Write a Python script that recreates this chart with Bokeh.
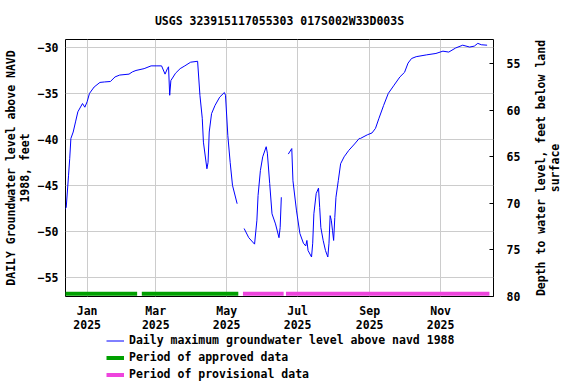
import math
import numpy as np
import pandas as pd
from bokeh.plotting import figure
from bokeh.layouts import column, row
from bokeh.core.properties import value
from bokeh.models import (Range1d, LinearAxis, FixedTicker, MonthsTicker,
                          DatetimeTickFormatter, Legend, LegendItem)
from bokeh.embed import file_html
from bokeh.resources import INLINE

title_text = "USGS 323915117055303 017S002W33D003S"

dates = [
    "2024-12-13", "2024-12-14", "2024-12-16", "2024-12-17", "2024-12-18", "2024-12-20",
    "2024-12-22", "2024-12-24", "2024-12-28", "2024-12-30", "2025-01-01", "2025-01-03",
    "2025-01-07", "2025-01-12", "2025-01-16", "2025-01-21", "2025-01-25", "2025-01-29",
    "2025-02-06", "2025-02-09", "2025-02-12", "2025-02-19", "2025-02-25", "2025-03-02",
    "2025-03-06", "2025-03-09", "2025-03-11", "2025-03-12", "2025-03-13", "2025-03-14",
    "2025-03-18", "2025-03-22", "2025-03-26", "2025-03-31", "2025-04-06", "2025-04-08",
    "2025-04-10", "2025-04-11", "2025-04-14", "2025-04-15", "2025-04-16", "2025-04-18",
    "2025-04-21", "2025-04-25", "2025-04-29", "2025-04-30", "2025-05-02", "2025-05-04",
    "2025-05-06", "2025-05-10", "2025-05-13",
    "2025-05-16", "2025-05-20", "2025-05-25", "2025-05-27", "2025-05-28", "2025-05-30",
    "2025-06-01", "2025-06-04", "2025-06-05", "2025-06-07", "2025-06-09", "2025-06-12",
    "2025-06-15", "2025-06-16", "2025-06-17", "2025-06-20",
    "2025-06-23", "2025-06-26", "2025-06-27", "2025-06-30", "2025-07-03", "2025-07-06",
    "2025-07-08", "2025-07-09", "2025-07-10", "2025-07-13", "2025-07-14", "2025-07-15",
    "2025-07-17", "2025-07-19", "2025-07-20", "2025-07-21", "2025-07-23", "2025-07-25",
    "2025-07-27", "2025-07-28", "2025-07-29", "2025-07-30", "2025-07-31", "2025-08-01",
    "2025-08-02", "2025-08-03", "2025-08-05", "2025-08-07", "2025-08-10", "2025-08-14",
    "2025-08-19", "2025-08-23", "2025-08-24", "2025-08-30", "2025-09-03", "2025-09-06",
    "2025-09-09", "2025-09-13", "2025-09-17", "2025-09-22", "2025-09-27", "2025-10-01",
    "2025-10-04", "2025-10-07", "2025-10-11", "2025-10-20", "2025-10-28", "2025-11-03",
    "2025-11-08", "2025-11-14", "2025-11-20", "2025-11-26", "2025-11-30", "2025-12-03",
    "2025-12-06", "2025-12-11",
]
levels = [
    -47.6, -47.4, -43.9, -42.1, -39.9, -39.2,
    -38.1, -37.0, -36.1, -36.5, -35.9, -35.0,
    -34.3, -33.8, -33.75, -33.7, -33.2, -33.0,
    -32.9, -32.65, -32.5, -32.3, -32.0, -32.0,
    -32.0, -32.9, -32.3, -32.1, -35.2, -33.6,
    -32.8, -32.3, -32.0, -31.6, -31.5, -35.2,
    -37.7, -40.3, -43.2, -42.5, -39.2, -37.2,
    -36.3, -35.4, -34.9, -35.2, -39.6, -42.5,
    -45.0, -47.0, float("nan"),
    -49.7, -50.7, -51.4, -48.8, -46.1, -43.4,
    -41.9, -40.8, -41.5, -44.8, -48.1, -49.2,
    -50.7, -49.6, -46.3, float("nan"),
    -41.6, -41.0, -44.5, -47.7, -50.25, -51.3,
    -51.6, -51.0, -52.1, -52.8, -51.3, -48.1,
    -45.9, -45.3, -47.4, -49.6, -51.0, -52.1,
    -52.8, -51.3, -48.3, -48.8, -49.9, -51.0,
    -48.5, -46.3, -44.5, -42.65, -41.9, -41.2,
    -40.5, -39.9, -39.9, -39.5, -39.3, -38.8,
    -37.7, -36.3, -35.0, -34.1, -33.2, -32.7,
    -31.7, -31.2, -31.0, -30.8, -30.65, -30.4,
    -30.5, -30.05, -29.75, -29.95, -29.85, -29.55,
    -29.7, -29.75,
]

approved_start = ["2024-12-13", "2025-02-17"]
approved_end = ["2025-02-13", "2025-05-11"]
provisional_start = ["2025-05-15", "2025-06-21"]
provisional_end = ["2025-06-19", "2025-12-13"]

left_ticks = [-55, -50, -45, -40, -35, -30]
right_ticks = [55, 60, 65, 70, 75, 80]
month_ticks = [0, 2, 4, 6, 8, 10]  # Jan, Mar, May, Jul, Sep, Nov

series_label = "Daily maximum groundwater level above navd 1988"
approved_label = "Period of approved data"
provisional_label = "Period of provisional data"
left_label = "DAILY Groundwater level above NAVD\n1988, feet"
right_label = "Depth to water level, feet below land\nsurface"

FONT = "DejaVu Sans Mono"
FSIZE = "11.5px"
BLUE = "#0000ff"
GREEN = "#00a000"
PINK = "#ee44dd"
BAR_Y = -56.8

x = pd.to_datetime(dates)
a0, a1 = pd.to_datetime(approved_start), pd.to_datetime(approved_end)
q0, q1 = pd.to_datetime(provisional_start), pd.to_datetime(provisional_end)

p = figure(width=530, height=334, x_axis_type="datetime",
           x_range=Range1d(pd.Timestamp("2024-12-13 09:00"), pd.Timestamp("2025-12-16 12:00")),
           y_range=Range1d(-57.1, -29.13),
           output_backend="svg", toolbar_location=None,
           min_border_left=64, min_border_right=37, min_border_top=39, min_border_bottom=38)

p.title.text = title_text
p.title.align = "center"
p.title.text_font = FONT
p.title.text_font_size = FSIZE
p.title.text_font_style = "bold"
p.title.text_color = "black"
p.title.standoff = 23

p.outline_line_color = "black"
p.outline_line_width = 1
p.background_fill_color = "white"
p.border_fill_color = "white"

p.line(x, levels, line_color=BLUE, line_width=1)
p.segment(x0=a0, y0=BAR_Y, x1=a1, y1=BAR_Y, line_color=GREEN, line_width=4)
p.segment(x0=q0, y0=BAR_Y, x1=q1, y1=BAR_Y, line_color=PINK, line_width=4)

# x axis
xt = MonthsTicker(months=month_ticks)
xa = p.xaxis[0]
xa.ticker = xt
xa.formatter = DatetimeTickFormatter(days="%b\n%Y", months="%b\n%Y", years="%b\n%Y")
p.xgrid.ticker = xt

# left axis
ya = p.yaxis[0]
ya.ticker = FixedTicker(ticks=left_ticks)
ya.axis_label = left_label

# right axis
p.extra_y_ranges = {"depth": Range1d(start=80, end=52.43)}
ra = LinearAxis(y_range_name="depth", ticker=FixedTicker(ticks=right_ticks))
p.add_layout(ra, "right")

for ax in (xa, ya, ra):
    ax.major_label_text_font = FONT
    ax.major_label_text_font_size = FSIZE
    ax.major_label_text_font_style = "bold"
    ax.major_label_text_color = "black"
    ax.major_label_text_line_height = 1.0
    ax.axis_label_text_font = FONT
    ax.axis_label_text_font_size = FSIZE
    ax.axis_label_text_font_style = "bold"
    ax.axis_label_text_color = "black"
    ax.axis_label_text_line_height = 1.0
    ax.axis_line_color = None
    ax.minor_tick_line_color = None
    ax.major_tick_out = 0
    ax.major_tick_in = 0

xa.major_label_standoff = 7
ya.major_label_standoff = 7
ya.axis_label_standoff = 3
ra.major_tick_in = 4
ra.major_tick_line_color = "black"
ra.major_label_standoff = 13

p.xgrid.grid_line_color = "#cccccc"
p.ygrid.grid_line_color = "#cccccc"
p.xgrid.grid_line_width = 1
p.ygrid.grid_line_width = 1

# legend panel below the chart
lg = figure(width=530, height=50, output_backend="svg", toolbar_location=None,
            x_range=Range1d(0, 1), y_range=Range1d(0, 1),
            x_axis_location=None, y_axis_location=None,
            min_border=0, outline_line_color=None)
lg.grid.visible = False
k_line = lg.line(x, levels, line_color=BLUE, line_width=1)
k_appr = lg.segment(x0=a0, y0=BAR_Y, x1=a1, y1=BAR_Y, line_color=GREEN, line_width=4)
k_prov = lg.segment(x0=q0, y0=BAR_Y, x1=q1, y1=BAR_Y, line_color=PINK, line_width=4)

legend = Legend(items=[
    LegendItem(label=series_label, renderers=[k_line]),
    LegendItem(label=approved_label, renderers=[k_appr]),
    LegendItem(label=provisional_label, renderers=[k_prov]),
], location=(41, 3))
legend.label_text_font = FONT
legend.label_text_font_size = FSIZE
legend.label_text_font_style = "bold"
legend.label_text_color = "black"
legend.glyph_width = 18
legend.glyph_height = 13
legend.label_height = 13
legend.label_standoff = 5
legend.spacing = 3
legend.padding = 0
legend.margin = 0
legend.border_line_alpha = 0
legend.background_fill_alpha = 0
lg.add_layout(legend)

# strip at the right carrying the secondary axis title
st = figure(width=46, height=334, output_backend="svg", toolbar_location=None,
            x_range=Range1d(0, 1), y_range=Range1d(0, 1),
            x_axis_location=None, y_axis_location=None,
            min_border_left=0, min_border_right=0, min_border_top=39, min_border_bottom=38,
            outline_line_color=None)
st.grid.visible = False
st.text(x=[0.37], y=[0.5], text=[right_label], angle=math.pi / 2,
        text_align="center", text_baseline="middle",
        text_font=value(FONT), text_font_size=value(FSIZE),
        text_font_style="bold", text_color="black", text_line_height=1.0)

layout = row(column(p, lg, spacing=0), st, spacing=0)
open("out.html", "w").write(file_html(layout, INLINE))
